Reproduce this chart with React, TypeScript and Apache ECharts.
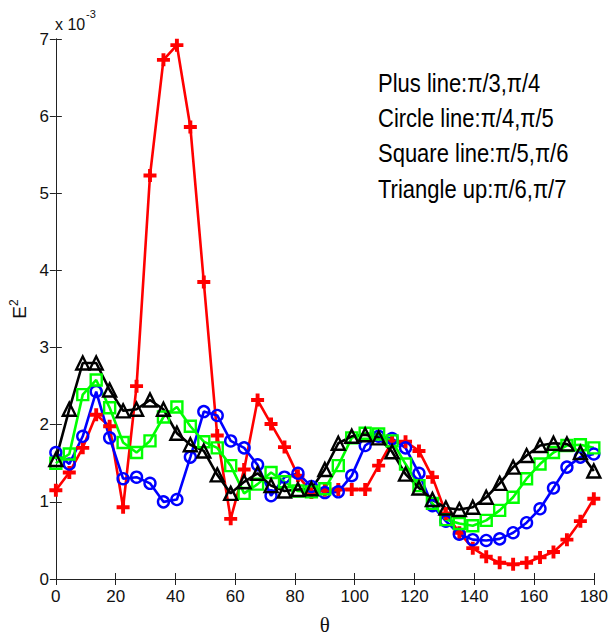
import React, { useEffect, useRef } from 'react';
import * as echarts from 'echarts';

// θ (degrees)
const theta = [0, 4.5, 9, 13.5, 18, 22.5, 27, 31.5, 36, 40.5, 45, 49.5, 54, 58.5, 63, 67.5, 72, 76.5, 81, 85.5, 90, 94.5, 99, 103.5, 108, 112.5, 117, 121.5, 126, 130.5, 135, 139.5, 144, 148.5, 153, 157.5, 162, 166.5, 171, 175.5, 180];

// E^2 values, in units of 1e-3
const plusLine = [1.15, 1.38, 1.70, 2.13, 1.98, 0.93, 2.50, 5.23, 6.73, 6.92, 5.86, 3.85, 1.86, 0.78, 1.42, 2.32, 2.01, 1.71, 1.34, 1.12, 1.15, 1.16, 1.16, 1.16, 1.47, 1.78, 1.78, 1.66, 1.32, 0.85, 0.60, 0.40, 0.29, 0.21, 0.19, 0.21, 0.28, 0.35, 0.51, 0.75, 1.04];
const circleLine = [1.64, 1.49, 1.85, 2.43, 1.83, 1.30, 1.32, 1.24, 1.00, 1.03, 1.58, 2.17, 2.12, 1.79, 1.70, 1.48, 1.08, 1.32, 1.37, 1.20, 1.12, 1.13, 1.34, 1.73, 1.85, 1.82, 1.70, 1.37, 0.95, 0.75, 0.58, 0.51, 0.50, 0.52, 0.60, 0.73, 0.91, 1.18, 1.45, 1.58, 1.62];
const squareLine = [1.50, 1.62, 2.39, 2.58, 2.22, 1.77, 1.64, 1.79, 2.10, 2.23, 1.98, 1.78, 1.70, 1.47, 1.11, 1.23, 1.38, 1.26, 1.14, 1.13, 1.17, 1.47, 1.83, 1.89, 1.88, 1.79, 1.49, 1.21, 0.98, 0.77, 0.72, 0.69, 0.76, 0.89, 1.06, 1.30, 1.49, 1.64, 1.73, 1.74, 1.70];
const triangleLine = [1.55, 2.20, 2.80, 2.80, 2.45, 2.18, 2.20, 2.32, 2.20, 1.89, 1.74, 1.66, 1.35, 1.11, 1.26, 1.37, 1.21, 1.14, 1.16, 1.17, 1.42, 1.76, 1.85, 1.87, 1.83, 1.65, 1.36, 1.18, 1.03, 0.92, 0.90, 0.93, 1.06, 1.24, 1.45, 1.60, 1.73, 1.76, 1.75, 1.64, 1.40];

const legendLines = ['Plus line:π/3,π/4', 'Circle line:π/4,π/5', 'Square line:π/5,π/6', 'Triangle up:π/6,π/7'];

const FONT = "'Liberation Sans', Arial, Helvetica, sans-serif";
const PLUS = 'path://M3.5,0H6.5V3.5H10V6.5H6.5V10H3.5V6.5H0V3.5H3.5Z';

const pairs = (ys: number[]) => ys.map((y, i) => [theta[i], y]);

export default function App() {
  const ref = useRef<HTMLDivElement>(null);
  useEffect(() => {
    if (!ref.current) return;
    const chart = echarts.init(ref.current, undefined, { renderer: 'svg' });
    const axisLine = { show: true, lineStyle: { color: '#222', width: 1 } };
    const tick = { show: true, inside: true, length: 6, lineStyle: { color: '#222', width: 1 } };
    const lbl = { color: '#111', fontSize: 17, fontFamily: FONT };
    const mkSeries = (name: string, data: number[], color: string, symbol: string, size: number, filled: boolean) => ({
      name,
      type: 'line',
      data: pairs(data),
      symbol,
      symbolSize: size,
      showAllSymbol: true,
      lineStyle: { color, width: 2.6 },
      itemStyle: filled
        ? { color, borderWidth: 0 }
        : { color: 'rgba(0,0,0,0)', borderColor: color, borderWidth: 2.4 },
      emphasis: { disabled: true },
      z: 2,
    });
    chart.setOption({
      animation: false,
      backgroundColor: '#fff',
      grid: { left: 54, right: 14, top: 39, bottom: 57.5, containLabel: false },
      xAxis: [
        {
          type: 'value', min: 0, max: 180, interval: 20, position: 'bottom',
          axisLine, axisTick: tick, splitLine: { show: false },
          axisLabel: { ...lbl, margin: 9 },
          name: 'θ', nameLocation: 'middle', nameGap: 35,
          nameTextStyle: { fontSize: 21, color: '#111', fontFamily: "'Liberation Serif', 'DejaVu Serif', serif" },
        },
        {
          type: 'value', min: 0, max: 180, interval: 20, position: 'top',
          axisLine, axisTick: tick, splitLine: { show: false }, axisLabel: { show: false },
        },
      ],
      yAxis: [
        {
          type: 'value', min: 0, max: 7, interval: 1, position: 'left',
          axisLine, axisTick: tick, splitLine: { show: false },
          axisLabel: { ...lbl, margin: 7 },
          name: '{e|E}{s|2}', nameLocation: 'middle', nameGap: 22, nameRotate: 90,
          nameTextStyle: {
            color: '#111', fontFamily: FONT,
            rich: {
              e: { fontSize: 19, fontFamily: FONT, color: '#111' },
              s: { fontSize: 12, fontFamily: FONT, color: '#111', verticalAlign: 'top', padding: [0, 0, 10, 0] },
            },
          },
        },
        {
          type: 'value', min: 0, max: 7, interval: 1, position: 'right',
          axisLine, axisTick: tick, splitLine: { show: false }, axisLabel: { show: false },
        },
      ],
      series: [
        mkSeries('Plus line', plusLine, '#ff0000', PLUS, 13, true),
        mkSeries('Circle line', circleLine, '#0000ff', 'circle', 11, false),
        mkSeries('Square line', squareLine, '#00ff00', 'rect', 11, false),
        mkSeries('Triangle up', triangleLine, '#000000', 'triangle', 13, false),
      ],
      graphic: [
        { type: 'text', x: 55, y: 24, style: { text: 'x 10', font: `16px ${FONT}`, fill: '#111', verticalAlign: 'middle' } },
        { type: 'text', x: 86, y: 14, style: { text: '-3', font: `11px ${FONT}`, fill: '#111', verticalAlign: 'middle' } },
        ...legendLines.map((t, i) => ({
          type: 'text', x: 378, y: 82.5 + i * 35.3, scaleY: 1.18,
          style: { text: t, font: `22px ${FONT}`, fill: '#000', verticalAlign: 'middle', align: 'left' },
        })),
      ],
    });
    return () => chart.dispose();
  }, []);
  return (
    <div
      ref={ref}
      style={{ position: 'absolute', left: 0, top: 0, width: 611, height: 640, background: '#fff' }}
    />
  );
}
